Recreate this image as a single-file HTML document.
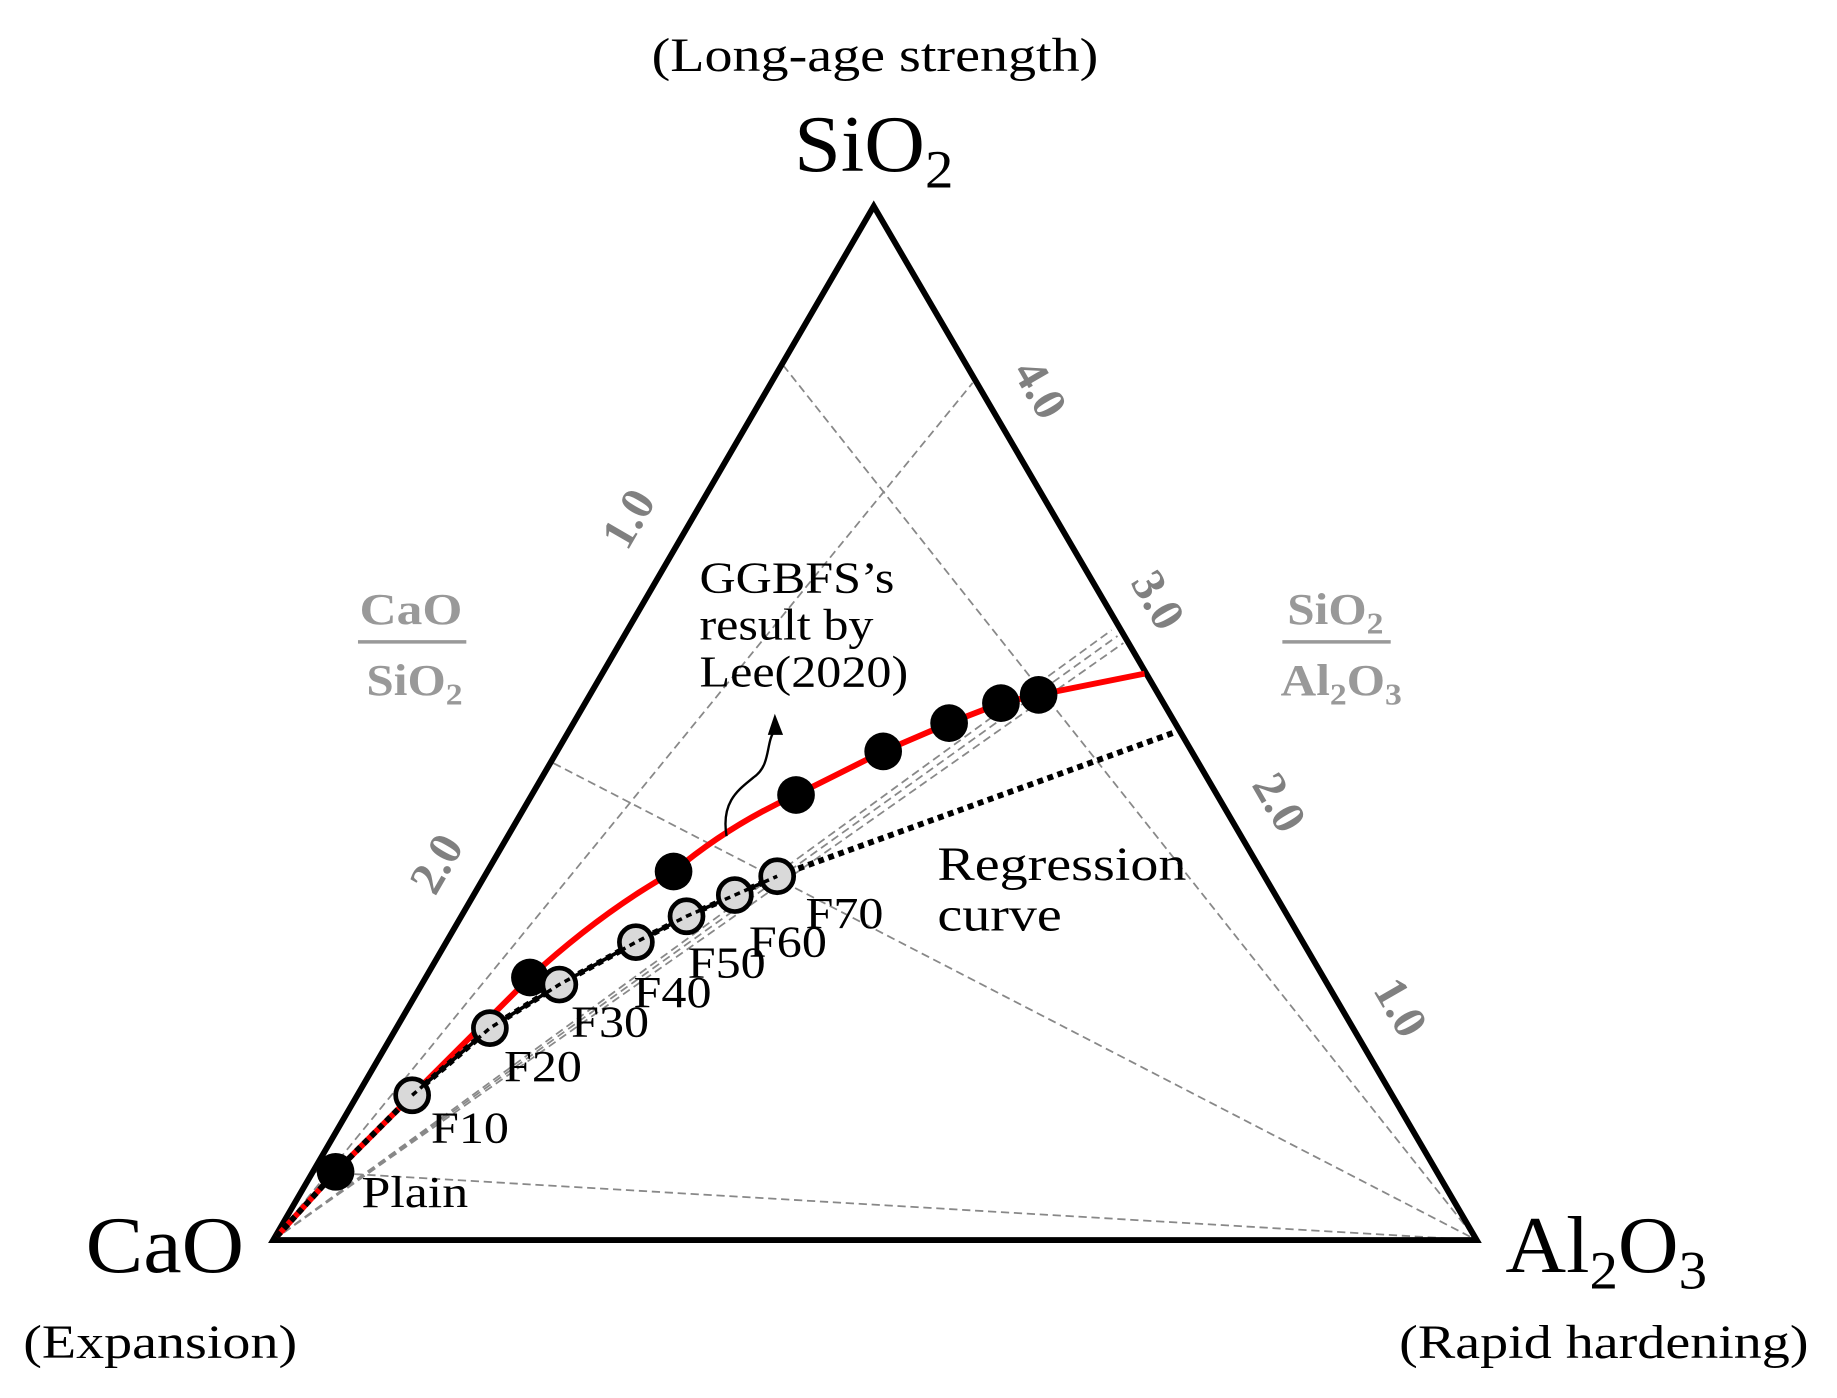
<!DOCTYPE html>
<html><head><meta charset="utf-8"><style>
html,body{margin:0;padding:0;background:#fff}
svg{display:block}
text{font-family:"Liberation Serif",serif}
</style></head><body>
<svg width="1837" height="1398" viewBox="0 0 1560 1187" xmlns="http://www.w3.org/2000/svg">
<g stroke="#888" stroke-width="1.5" stroke-dasharray="7 4" fill="none">
<line x1="665" y1="310" x2="1254" y2="1053"/>
<line x1="470" y1="648" x2="1254" y2="1053"/>
<line x1="268" y1="995" x2="1254" y2="1053"/>
<line x1="232" y1="1053" x2="826" y2="325"/>
<line x1="232" y1="1053" x2="944" y2="535"/>
<line x1="232" y1="1053" x2="949" y2="540"/>
<line x1="232" y1="1053" x2="954" y2="546"/>
</g>
<polygon points="232,1053 742,175 1254,1053" fill="none" stroke="#000" stroke-width="5" stroke-linejoin="miter"/>
<path d="M235,1050 L285,995 L350,930 L450,830 Q510,775 572,740 Q620,700 676,675 L750,638 L806,614 L850,597 L882,590 L972,572" fill="none" stroke="#f00" stroke-width="5"/>
<path d="M235,1050 L285,995 L350,930 L416,873 L475,836 L540,800 L583,778 L624,760 L660,744 L997,622" fill="none" stroke="#000" stroke-width="5" stroke-dasharray="5 4"/>
<g fill="#000">
<circle cx="285" cy="995" r="16"/><circle cx="450" cy="830" r="16"/><circle cx="572" cy="740" r="16"/><circle cx="676" cy="675" r="16"/><circle cx="750" cy="638" r="16"/><circle cx="806" cy="614" r="16"/><circle cx="850" cy="597" r="16"/><circle cx="882" cy="590" r="16"/>
</g>
<g fill="#d9d9d9" stroke="#000" stroke-width="4">
<circle cx="350" cy="930" r="14"/><circle cx="416" cy="873" r="14"/><circle cx="475" cy="836" r="14"/><circle cx="540" cy="800" r="14"/><circle cx="583" cy="778" r="14"/><circle cx="624" cy="760" r="14"/><circle cx="660" cy="744" r="14"/>
</g>
<g stroke="#000" stroke-width="3" stroke-dasharray="5 4" fill="none">
<path d="M350,930 L416,873 L475,836 L540,800 L583,778 L624,760 L660,744"/>
</g>
<g font-size="38" fill="#000">
<text transform="translate(307,1025) scale(1.16,1)">Plain</text>
<text transform="translate(366,970) scale(1.12,1)">F10</text>
<text transform="translate(428,918) scale(1.12,1)">F20</text>
<text transform="translate(485,880) scale(1.12,1)">F30</text>
<text transform="translate(538,855) scale(1.12,1)">F40</text>
<text transform="translate(584,830) scale(1.12,1)">F50</text>
<text transform="translate(636,812) scale(1.12,1)">F60</text>
<text transform="translate(684,788) scale(1.12,1)">F70</text>
<text transform="translate(594,503) scale(1.12,1)">GGBFS’s</text>
<text transform="translate(594,543) scale(1.12,1)">result by</text>
<text transform="translate(594,583) scale(1.12,1)">Lee(2020)</text>
<text transform="translate(796,747) scale(1.19,1)" font-size="40">Regression</text>
<text transform="translate(796,790) scale(1.19,1)" font-size="40">curve</text>
</g>
<path d="M617,710 C612,680 628,670 640,660 C655,650 650,630 658,620" fill="none" stroke="#000" stroke-width="2"/>
<polygon points="658,606 652,624 665,624" fill="#000"/>
<g fill="#000" text-anchor="middle">
<text transform="translate(743,60) scale(1.19,1)" font-size="40">(Long-age strength)</text>
<text transform="translate(742,145) scale(1.05,1)" font-size="68">SiO<tspan font-size="46" dy="14">2</tspan></text>
<text transform="translate(140,1080) scale(1.08,1)" font-size="68">CaO</text>
<text transform="translate(136,1153) scale(1.19,1)" font-size="40">(Expansion)</text>
<text transform="translate(1364,1080) scale(1.05,1)" font-size="68">Al<tspan font-size="46" dy="14">2</tspan><tspan dy="-14">O</tspan><tspan font-size="46" dy="14">3</tspan></text>
<text transform="translate(1362,1153) scale(1.19,1)" font-size="40">(Rapid hardening)</text>
</g>
<g fill="#999" font-weight="bold" font-size="38" text-anchor="middle">
<text transform="translate(349,530) scale(1.15,1)">CaO</text>
<text transform="translate(352,590) scale(1.1,1)">SiO<tspan font-size="26" dy="8">2</tspan></text>
<text transform="translate(1134,530) scale(1.1,1)">SiO<tspan font-size="26" dy="8">2</tspan></text>
<text transform="translate(1139,590) scale(1.1,1)">Al<tspan font-size="26" dy="8">2</tspan><tspan dy="-8">O</tspan><tspan font-size="26" dy="8">3</tspan></text>
</g>
<g stroke="#999" stroke-width="3"><line x1="304" y1="545" x2="396" y2="545"/><line x1="1089" y1="545" x2="1181" y2="545"/></g>
<g fill="#808080" font-weight="bold" font-size="40" text-anchor="middle">
<text transform="translate(545,447) rotate(-60)">1.0</text>
<text transform="translate(382,740) rotate(-60)">2.0</text>
<text transform="translate(872,337) rotate(60)">4.0</text>
<text transform="translate(972,516) rotate(60)">3.0</text>
<text transform="translate(1075,688) rotate(60)">2.0</text>
<text transform="translate(1178,862) rotate(60)">1.0</text>
</g>
</svg>
</body></html>
